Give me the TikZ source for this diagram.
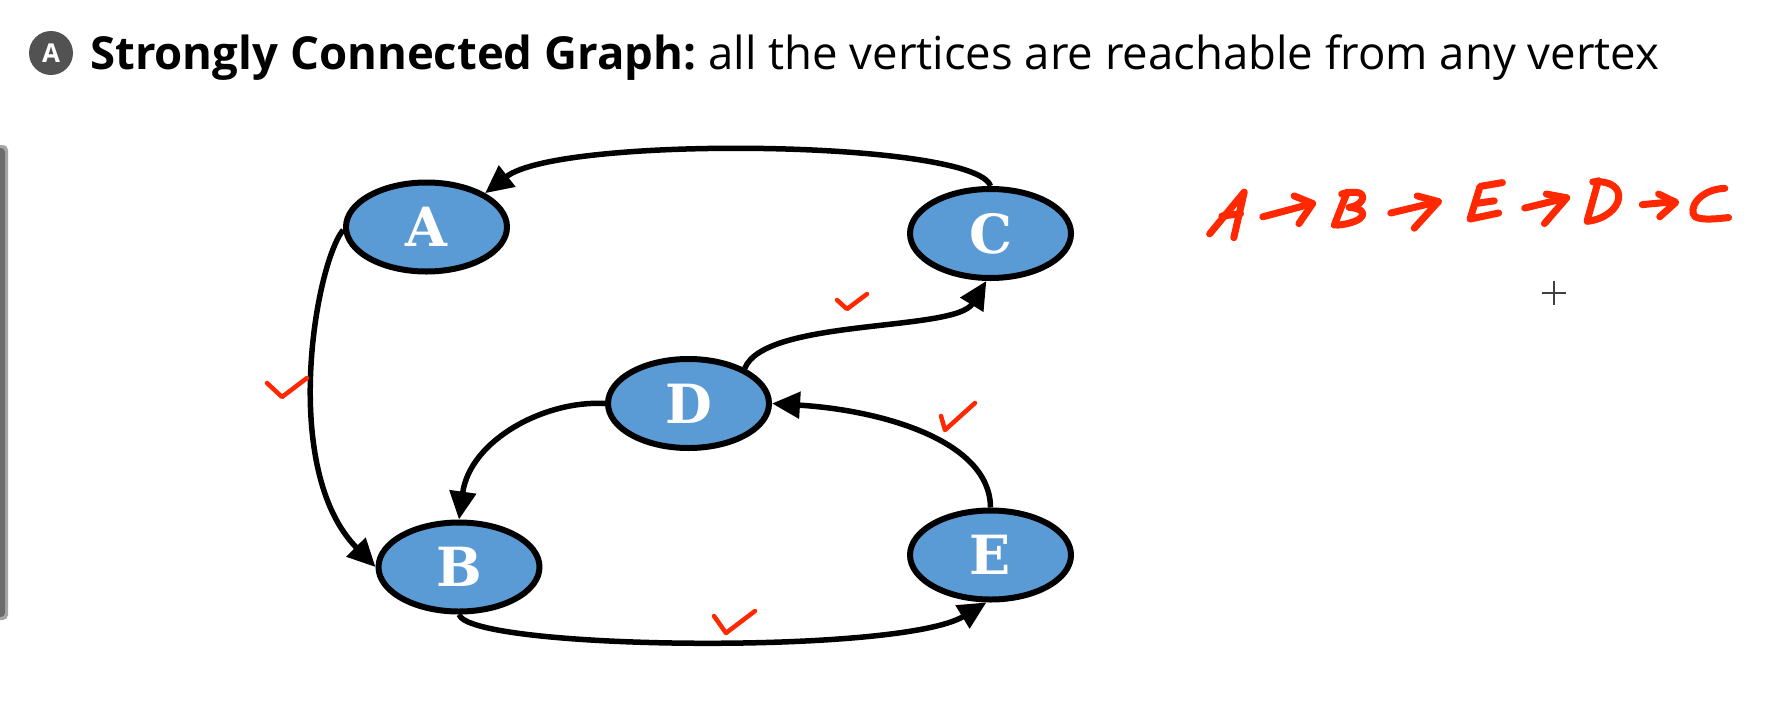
\documentclass[tikz,border=0pt]{standalone}
\usepackage{fontspec}
\setmainfont{Open Sans}
\newfontfamily\labelfont{DejaVu Serif}
\usetikzlibrary{arrows.meta,shapes.geometric}

\definecolor{nodeblue}{RGB}{91,155,213}
\definecolor{ink}{RGB}{255,40,0}
\definecolor{badgegray}{RGB}{82,82,82}

\begin{document}
\begin{tikzpicture}[x=1pt,y=-1pt,
  vertex/.style={ellipse, draw=black, line width=6pt, fill=nodeblue,
    minimum width=161pt, minimum height=89pt, inner sep=0pt,
    text=white, font=\labelfont\bfseries\fontsize{54}{54}\selectfont},
  link/.style={line width=5.5pt, -{Triangle[length=28pt,width=26pt]}},
  tick/.style={ink, line width=4.5pt, line cap=round, line join=round},
  hand/.style={ink, line width=7pt, line cap=round, line join=round}]

\useasboundingbox[fill=white] (0,0) rectangle (1779,710);

% side bar of the slide panel
\fill[black!35, rounded corners=5pt] (-12,145) rectangle (8,620);
\fill[black!58, rounded corners=4pt] (-12,148) rectangle (5,617);

% heading
\node[circle, fill=badgegray, minimum size=44pt, inner sep=0pt, text=white,
  font=\bfseries\fontsize{26}{26}\selectfont] (badge) at (51,53) {A};
\node[anchor=base west, inner sep=0pt, font=\fontsize{45.5}{52}\selectfont] (title) at (90,69)
  {\textbf{Strongly Connected Graph:}\hspace{-4pt} all the vertices are reachable from any vertex};

% vertices
\node[vertex] (A) at (426.5,227) {A};
\node[vertex] (C) at (990.5,233.5) {C};
\node[vertex] (D) at (688.5,403.5) {D};
\node[vertex] (B) at (459,567) {B};
\node[vertex] (E) at (990.5,555) {E};

% directed edges
\draw[link] (C.north) .. controls (975,140) and (560,135) .. (A.30);
\draw[link] (A.182) .. controls (315,265) and (280,470) .. (B.west);
\draw[link] (D.32) .. controls (765,318) and (955,332) .. (C.265);
\draw[link] (D.west) .. controls (545,400) and (470,440) .. (B.north);
\draw[link] (E.north) .. controls (990,440) and (880,410) .. (D.east);
\draw[link] (B.south) .. controls (470,650) and (900,655) .. (E.265);

% ticks beside visited edges
\draw[tick] (267,383) -- (282,397) -- (307,378);
\draw[tick] (837,300) -- (847,309) -- (867,294);
\draw[tick] (941,416) -- (945,430) -- (975,403);
\draw[tick] (714,616) -- (726,633) -- (755,611);

% handwritten traversal order
\begin{scope}[shift={(1178,156)}, xscale=0.372, yscale=0.38]
  % A
  \draw[hand] (85,205) -- (178,95) -- (150,215);
  \draw[hand] (118,158) -- (168,152);
  \draw[hand] (228,160) -- (362,125);
  \draw[hand] (312,105) -- (362,125) -- (325,178);
  % B
  \draw[hand] (455,95) -- (420,182);
  \draw[hand] (440,100) .. controls (520,80) and (505,130) .. (460,135)
    .. controls (520,140) and (505,175) .. (428,182);
  \draw[hand] (572,150) -- (700,120);
  \draw[hand] (643,105) -- (700,120) -- (635,190);
  % E
  \draw[hand] (872,70) -- (812,80) -- (785,166) -- (862,150);
  \draw[hand] (800,125) -- (850,118);
  \draw[hand] (932,137) -- (1045,110);
  \draw[hand] (990,100) -- (1045,110) -- (985,178);
  % D
  \draw[hand] (1130,65) -- (1100,170);
  \draw[hand] (1115,68) .. controls (1220,60) and (1200,160) .. (1100,172);
  \draw[hand] (1248,128) -- (1335,120);
  \draw[hand] (1292,100) -- (1338,122) -- (1295,160);
  % C
  \draw[hand] (1470,85) .. controls (1400,88) and (1370,140) .. (1390,160)
    .. controls (1410,170) and (1450,165) .. (1480,162);
\end{scope}

% pointer cross
\coordinate (pointer) at (1554,293);
\draw[black!75, line width=2.2pt] ([xshift=-12pt]pointer) -- ([xshift=12pt]pointer);
\draw[black!75, line width=2.2pt] ([yshift=-12pt]pointer) -- ([yshift=12pt]pointer);
\end{tikzpicture}
\end{document}
